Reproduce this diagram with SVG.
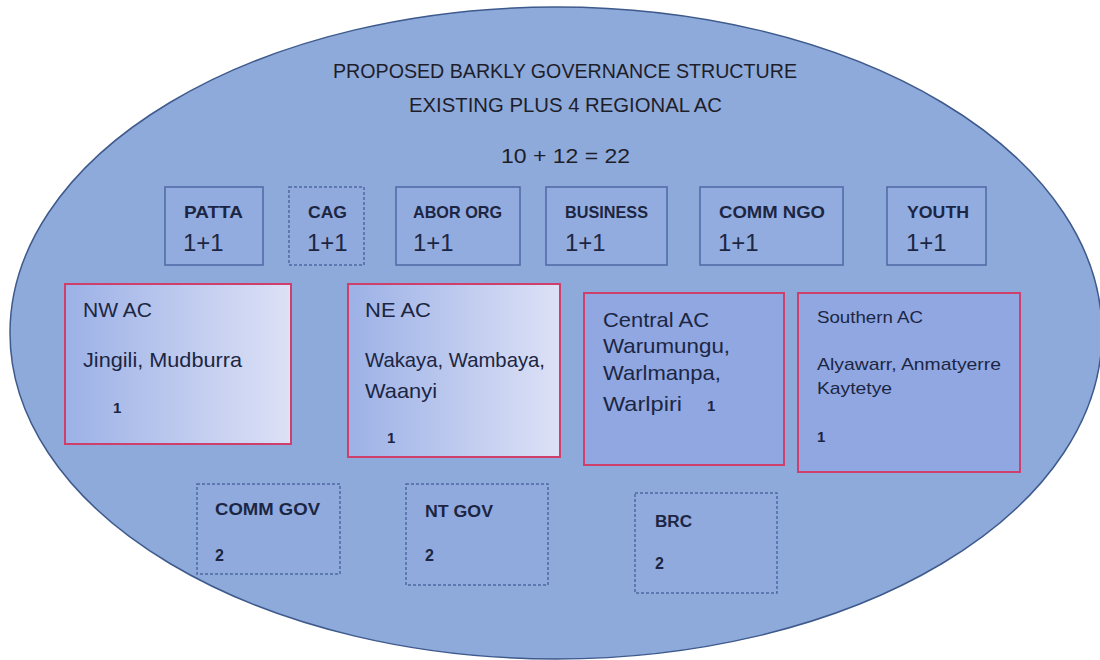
<svg xmlns="http://www.w3.org/2000/svg" width="1100" height="660" viewBox="0 0 1100 660">
  <style>
    text { font-family: "Liberation Sans", Arial, sans-serif; fill: #1c2642; }
    .title { font-size: 21px; fill: #1e1e2a; }
    .lbl { font-size: 17px; font-weight: bold; }
    .num { font-size: 24px; }
    .ac { font-size: 21px; }
    .acs { font-size: 17px; }
    .one { font-size: 15px; font-weight: bold; }
    .sm { font-size: 16px; font-weight: bold; }
    .box { fill: #93ace0; stroke: #4d68a4; stroke-width: 1.5; }
    .dash { fill: #90aade; stroke: #4d68a4; stroke-width: 1.5; stroke-dasharray: 3 2; }
    .red { stroke: #cf3f6c; stroke-width: 2; }
  </style>
  <defs>
    <linearGradient id="fade" x1="0" y1="0" x2="1" y2="0">
      <stop offset="0" stop-color="#9cb1e6"/>
      <stop offset="1" stop-color="#dde1f6"/>
    </linearGradient>
  </defs>

  <rect width="1100" height="660" fill="#ffffff"/>

  <!-- outer boundary -->
  <g id="boundary">
    <ellipse cx="556" cy="333" rx="546" ry="326" fill="#8eaadb" stroke="#3e5a8c" stroke-width="1.5"/>
    <text class="title" x="333" y="78" textLength="464" lengthAdjust="spacingAndGlyphs">PROPOSED BARKLY GOVERNANCE STRUCTURE</text>
    <text class="title" x="409" y="112" textLength="313" lengthAdjust="spacingAndGlyphs">EXISTING PLUS 4 REGIONAL AC</text>
    <text class="title" x="501" y="163" textLength="129" lengthAdjust="spacingAndGlyphs">10 + 12 = 22</text>
  </g>

  <!-- top row of member groups -->
  <g id="patta">
    <rect class="box" x="165" y="187" width="98" height="78"/>
    <text class="lbl" x="184" y="218" textLength="59" lengthAdjust="spacingAndGlyphs">PATTA</text>
    <text class="num" x="183" y="251">1+1</text>
  </g>
  <g id="cag">
    <rect class="dash" x="289" y="187" width="75" height="78"/>
    <text class="lbl" x="308" y="218" textLength="39" lengthAdjust="spacingAndGlyphs">CAG</text>
    <text class="num" x="307" y="251">1+1</text>
  </g>
  <g id="abor-org">
    <rect class="box" x="396" y="187" width="124" height="78"/>
    <text class="lbl" x="413" y="218" textLength="89" lengthAdjust="spacingAndGlyphs">ABOR ORG</text>
    <text class="num" x="413" y="251">1+1</text>
  </g>
  <g id="business">
    <rect class="box" x="546" y="187" width="121" height="78"/>
    <text class="lbl" x="565" y="218" textLength="83" lengthAdjust="spacingAndGlyphs">BUSINESS</text>
    <text class="num" x="565" y="251">1+1</text>
  </g>
  <g id="comm-ngo">
    <rect class="box" x="700" y="187" width="143" height="78"/>
    <text class="lbl" x="719" y="218" textLength="106" lengthAdjust="spacingAndGlyphs">COMM NGO</text>
    <text class="num" x="718" y="251">1+1</text>
  </g>
  <g id="youth">
    <rect class="box" x="887" y="187" width="99" height="78"/>
    <text class="lbl" x="907" y="218" textLength="62" lengthAdjust="spacingAndGlyphs">YOUTH</text>
    <text class="num" x="906" y="251">1+1</text>
  </g>

  <!-- regional authority councils -->
  <g id="nw-ac">
    <rect class="red" x="65" y="284" width="226" height="160" fill="url(#fade)"/>
    <text class="ac" x="83" y="317" textLength="69" lengthAdjust="spacingAndGlyphs">NW AC</text>
    <text class="ac" x="83" y="367" textLength="159" lengthAdjust="spacingAndGlyphs">Jingili, Mudburra</text>
    <text class="one" x="113" y="413">1</text>
  </g>
  <g id="ne-ac">
    <rect class="red" x="348" y="284" width="212" height="173" fill="url(#fade)"/>
    <text class="ac" x="365" y="317" textLength="66" lengthAdjust="spacingAndGlyphs">NE AC</text>
    <text class="ac" x="365" y="367" textLength="180" lengthAdjust="spacingAndGlyphs">Wakaya, Wambaya,</text>
    <text class="ac" x="365" y="398" textLength="72" lengthAdjust="spacingAndGlyphs">Waanyi</text>
    <text class="one" x="387" y="443">1</text>
  </g>
  <g id="central-ac">
    <rect class="red" x="584" y="293" width="200" height="172" fill="#90a7e2"/>
    <text class="ac" x="603" y="327" textLength="106" lengthAdjust="spacingAndGlyphs">Central AC</text>
    <text class="ac" x="603" y="353" textLength="127" lengthAdjust="spacingAndGlyphs">Warumungu,</text>
    <text class="ac" x="603" y="380" textLength="118" lengthAdjust="spacingAndGlyphs">Warlmanpa,</text>
    <text class="ac" x="603" y="411" textLength="79" lengthAdjust="spacingAndGlyphs">Warlpiri</text>
    <text class="one" x="707" y="411">1</text>
  </g>
  <g id="southern-ac">
    <rect class="red" x="798" y="293" width="222" height="179" fill="#90a7e2"/>
    <text class="acs" x="817" y="323" textLength="106" lengthAdjust="spacingAndGlyphs">Southern AC</text>
    <text class="acs" x="817" y="370" textLength="184" lengthAdjust="spacingAndGlyphs">Alyawarr, Anmatyerre</text>
    <text class="acs" x="817" y="394" textLength="75" lengthAdjust="spacingAndGlyphs">Kaytetye</text>
    <text class="one" x="817" y="442">1</text>
  </g>

  <!-- government representatives -->
  <g id="comm-gov">
    <rect class="dash" x="197" y="484" width="143" height="90"/>
    <text class="sm" x="215" y="515" textLength="105" lengthAdjust="spacingAndGlyphs">COMM GOV</text>
    <text class="sm" x="215" y="561">2</text>
  </g>
  <g id="nt-gov">
    <rect class="dash" x="406" y="484" width="142" height="101"/>
    <text class="sm" x="425" y="517" textLength="68" lengthAdjust="spacingAndGlyphs">NT GOV</text>
    <text class="sm" x="425" y="561">2</text>
  </g>
  <g id="brc">
    <rect class="dash" x="635" y="493" width="142" height="100"/>
    <text class="sm" x="655" y="527" textLength="37" lengthAdjust="spacingAndGlyphs">BRC</text>
    <text class="sm" x="655" y="569">2</text>
  </g>
</svg>
